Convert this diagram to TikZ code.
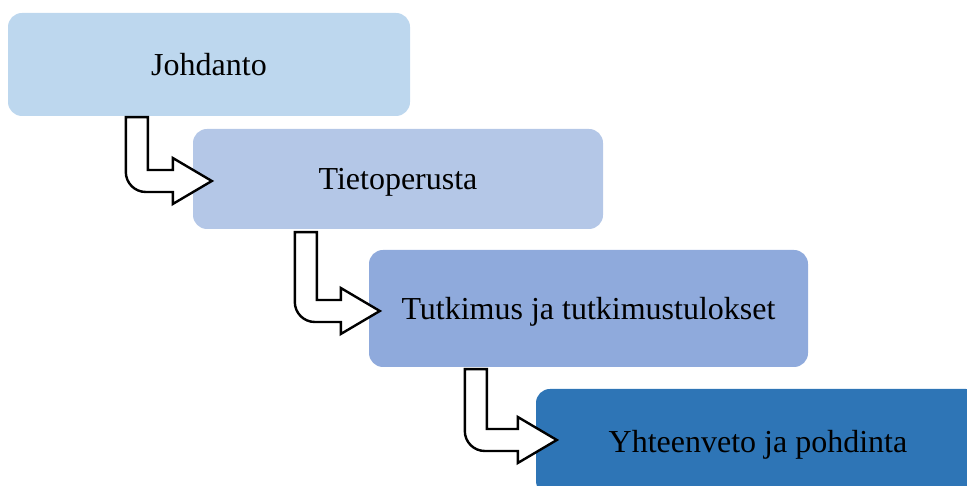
\documentclass[tikz,border=0pt]{standalone}
\usepackage{fontspec}
\setmainfont{Liberation Serif}
\usetikzlibrary{calc}
\definecolor{boxa}{HTML}{BDD7EE}
\definecolor{boxb}{HTML}{B4C7E7}
\definecolor{boxc}{HTML}{8FAADC}
\definecolor{boxd}{HTML}{2E75B6}
% bent outline arrow from top of shaft (#1) to tip (#2)
\newcommand{\bentarrow}[2]{%
  \draw[arrowline] let \p1=(#1), \p2=(#2) in
    (\x1,\y1) -- ({\x1+22pt},\y1) -- ({\x1+22pt},{\y2+11pt})
    -- ({\x2-39pt},{\y2+11pt}) -- ({\x2-39pt},{\y2+23pt}) -- (\x2,\y2)
    -- ({\x2-39pt},{\y2-23pt}) -- ({\x2-39pt},{\y2-11pt})
    -- ({\x1+20pt},{\y2-11pt}) arc[start angle=270,end angle=180,radius=20pt]
    -- cycle;}
\begin{document}
\begin{tikzpicture}[x=1pt,y=1pt,
    stage/.style={rounded corners=14pt,inner sep=0pt,text=black,
      text height=22pt,text depth=0pt,font=\fontsize{32}{38}\selectfont},
    arrowline/.style={draw=black,fill=white,line width=2.4pt,line join=miter}]
  \useasboundingbox (0,0) rectangle (967,486);
  \clip (0,0) rectangle (967,486);
  % stages
  \node[stage,fill=boxa,minimum width=402pt,minimum height=103pt] (johdanto) at (209,421.5) {Johdanto};
  \node[stage,fill=boxb,minimum width=410pt,minimum height=100pt] (tieto) at (398,307) {Tietoperusta};
  \node[stage,fill=boxc,minimum width=439pt,minimum height=117pt] (tutkimus) at (588.5,177.5) {Tutkimus ja tutkimustulokset};
  \node[stage,fill=boxd,minimum width=444pt,minimum height=106pt] (yhteen) at (758,44) {Yhteenveto ja pohdinta};
  % arrows
  \coordinate (s1) at ($(johdanto.south west)+(118,-1)$);
  \coordinate (t1) at ($(tieto.west)+(19,-2)$);
  \coordinate (s2) at ($(tieto.south west)+(102,-3)$);
  \coordinate (t2) at ($(tutkimus.west)+(11,-2.5)$);
  \coordinate (s3) at ($(tutkimus.south west)+(96,-2)$);
  \coordinate (t3) at ($(yhteen.west)+(21,2)$);
  \bentarrow{s1}{t1}
  \bentarrow{s2}{t2}
  \bentarrow{s3}{t3}
\end{tikzpicture}
\end{document}
